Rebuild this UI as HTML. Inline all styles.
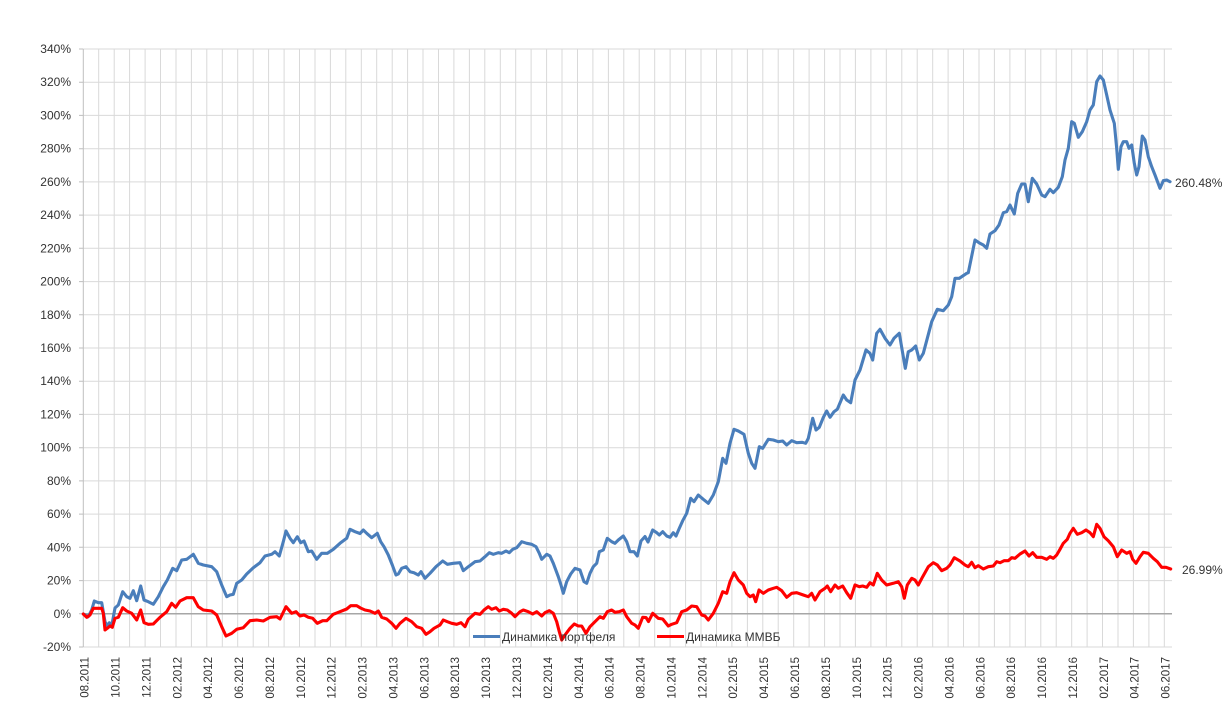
<!DOCTYPE html>
<html>
<head>
<meta charset="utf-8">
<style>
html,body{margin:0;padding:0;background:#fff;}
svg{display:block;}
text{font-family:"Liberation Sans","DejaVu Sans",sans-serif;fill:#333;}
</style>
</head>
<body>
<svg width="1228" height="725" viewBox="0 0 1228 725" xmlns="http://www.w3.org/2000/svg">
<rect x="0" y="0" width="1228" height="725" fill="#fff"/>
<path fill="none" stroke="#d9d9d9" stroke-width="1" d="M98.7 49V647M114.2 49V647M129.6 49V647M145.1 49V647M160.5 49V647M176 49V647M191.4 49V647M206.8 49V647M222.3 49V647M237.7 49V647M253.2 49V647M268.6 49V647M284.1 49V647M299.5 49V647M315 49V647M330.4 49V647M345.8 49V647M361.3 49V647M376.7 49V647M392.2 49V647M407.6 49V647M423 49V647M438.5 49V647M453.9 49V647M469.4 49V647M484.8 49V647M500.3 49V647M515.7 49V647M531.1 49V647M546.6 49V647M562 49V647M577.5 49V647M592.9 49V647M608.4 49V647M623.8 49V647M639.2 49V647M654.7 49V647M670.1 49V647M685.6 49V647M701 49V647M716.5 49V647M731.9 49V647M747.4 49V647M762.8 49V647M778.2 49V647M793.7 49V647M809.1 49V647M824.6 49V647M840 49V647M855.4 49V647M870.9 49V647M886.3 49V647M901.8 49V647M917.2 49V647M932.7 49V647M948.1 49V647M963.5 49V647M979 49V647M994.4 49V647M1009.9 49V647M1025.3 49V647M1040.8 49V647M1056.2 49V647M1071.7 49V647M1087.1 49V647M1102.5 49V647M1118 49V647M1133.4 49V647M1148.9 49V647M1164.3 49V647"/>
<path fill="none" stroke="#d9d9d9" stroke-width="1" d="M83 49H1172M83 82.2H1172M83 115.4H1172M83 148.7H1172M83 181.9H1172M83 215.1H1172M83 248.3H1172M83 281.6H1172M83 314.8H1172M83 348H1172M83 381.2H1172M83 414.4H1172M83 447.7H1172M83 480.9H1172M83 514.1H1172M83 547.3H1172M83 580.6H1172M83 647H1172"/>
<path fill="none" stroke="#a6a6a6" stroke-width="1.5" d="M83 613.8H1172"/>
<path fill="none" stroke="#bfbfbf" stroke-width="1" d="M83.3 49V647M79 49H83M79 82.2H83M79 115.4H83M79 148.7H83M79 181.9H83M79 215.1H83M79 248.3H83M79 281.6H83M79 314.8H83M79 348H83M79 381.2H83M79 414.4H83M79 447.7H83M79 480.9H83M79 514.1H83M79 547.3H83M79 580.6H83M79 613.8H83M79 647H83"/>
<g font-size="12" text-anchor="end">
<text x="71" y="53">340%</text>
<text x="71" y="86.2">320%</text>
<text x="71" y="119.4">300%</text>
<text x="71" y="152.7">280%</text>
<text x="71" y="185.9">260%</text>
<text x="71" y="219.1">240%</text>
<text x="71" y="252.3">220%</text>
<text x="71" y="285.6">200%</text>
<text x="71" y="318.8">180%</text>
<text x="71" y="352">160%</text>
<text x="71" y="385.2">140%</text>
<text x="71" y="418.4">120%</text>
<text x="71" y="451.7">100%</text>
<text x="71" y="484.9">80%</text>
<text x="71" y="518.1">60%</text>
<text x="71" y="551.3">40%</text>
<text x="71" y="584.6">20%</text>
<text x="71" y="617.8">0%</text>
<text x="71" y="651">-20%</text>
</g>
<g font-size="11.5" text-anchor="end">
<text transform="translate(88.6,657) rotate(-90)">08.2011</text>
<text transform="translate(119.5,657) rotate(-90)">10.2011</text>
<text transform="translate(150.4,657) rotate(-90)">12.2011</text>
<text transform="translate(181.3,657) rotate(-90)">02.2012</text>
<text transform="translate(212.1,657) rotate(-90)">04.2012</text>
<text transform="translate(243,657) rotate(-90)">06.2012</text>
<text transform="translate(273.9,657) rotate(-90)">08.2012</text>
<text transform="translate(304.8,657) rotate(-90)">10.2012</text>
<text transform="translate(335.7,657) rotate(-90)">12.2012</text>
<text transform="translate(366.6,657) rotate(-90)">02.2013</text>
<text transform="translate(397.5,657) rotate(-90)">04.2013</text>
<text transform="translate(428.3,657) rotate(-90)">06.2013</text>
<text transform="translate(459.2,657) rotate(-90)">08.2013</text>
<text transform="translate(490.1,657) rotate(-90)">10.2013</text>
<text transform="translate(521,657) rotate(-90)">12.2013</text>
<text transform="translate(551.9,657) rotate(-90)">02.2014</text>
<text transform="translate(582.8,657) rotate(-90)">04.2014</text>
<text transform="translate(613.7,657) rotate(-90)">06.2014</text>
<text transform="translate(644.5,657) rotate(-90)">08.2014</text>
<text transform="translate(675.4,657) rotate(-90)">10.2014</text>
<text transform="translate(706.3,657) rotate(-90)">12.2014</text>
<text transform="translate(737.2,657) rotate(-90)">02.2015</text>
<text transform="translate(768.1,657) rotate(-90)">04.2015</text>
<text transform="translate(799,657) rotate(-90)">06.2015</text>
<text transform="translate(829.9,657) rotate(-90)">08.2015</text>
<text transform="translate(860.8,657) rotate(-90)">10.2015</text>
<text transform="translate(891.6,657) rotate(-90)">12.2015</text>
<text transform="translate(922.5,657) rotate(-90)">02.2016</text>
<text transform="translate(953.4,657) rotate(-90)">04.2016</text>
<text transform="translate(984.3,657) rotate(-90)">06.2016</text>
<text transform="translate(1015.2,657) rotate(-90)">08.2016</text>
<text transform="translate(1046.1,657) rotate(-90)">10.2016</text>
<text transform="translate(1077,657) rotate(-90)">12.2016</text>
<text transform="translate(1107.8,657) rotate(-90)">02.2017</text>
<text transform="translate(1138.7,657) rotate(-90)">04.2017</text>
<text transform="translate(1169.6,657) rotate(-90)">06.2017</text>
</g>
<polyline fill="none" stroke="#4a7ebb" stroke-width="3.1" stroke-linejoin="round" stroke-linecap="round" points="83.3,614 88.3,616.7 91.7,610 94.3,601 98.3,602.7 101.7,602.7 105,621.7 107.3,626 109.3,622.7 111.7,626 115,608 118.3,605 122.7,591.7 126.7,596.7 130,598.3 133.3,590.7 136.7,600.7 140.7,586 144,600 148.3,601.7 153.3,604.3 158.3,596.7 163.3,586.7 167.3,580 172.7,568.3 176.7,570.7 181.7,560 186.7,559.3 193.3,554.3 198.3,563.3 203.3,565 211.7,566.7 216.7,571.7 221.7,585 226.7,596.7 230,595 233.3,594.3 236.7,583.3 241.7,580 246.7,574 253.3,567.7 260,562.7 265,556 271.7,554.3 275,551.7 279.3,556 283.3,541.7 286,531 290,538.3 293.3,542.7 297.3,536.7 300.7,542.7 304,541 308.3,551.7 311.7,551 316.7,559.3 321.7,553.3 327.3,553.3 333.3,549.3 340,543.3 346.7,538.3 350,529.3 355,531.7 360,533.5 363.3,530 366.7,533.3 371.7,537.7 377.3,533.3 380.7,541.7 384,546.7 388.3,555 392.3,565 396,575 398.3,574 401.7,568.3 406,566.7 410,571.7 414,572.7 418.3,575 421,571.7 425,578.3 430,573.3 436,566.7 442.7,561 447.3,564.3 453.3,563.3 460,562.7 463.3,570.7 468.3,566.7 475,561.7 480,561 485,556.7 489.3,552.7 493.3,554.3 498.3,552.7 501.7,553.3 506,551 509.3,552.7 512.7,549.3 516.7,547.7 521.7,541.7 526.7,543.3 531.7,544.3 536,546.7 539.3,553.3 541.7,559.3 546.7,554.3 550,556 553.3,563.3 558.3,576.7 561,585 563.3,593.3 566.7,581.7 570.7,574 575,568.3 580,570 584,581.7 586.7,583.3 590,573.3 593.3,566.7 596.7,563.3 599.3,551.7 603.3,550 607.3,538.3 611.7,541.7 615,543.3 618.3,540 623.3,536 626.7,541.7 630,551.7 634,551.7 637.3,556 641,541 645,536.5 648,542 652.7,530 656.7,532.7 659.3,535 662.7,531.7 666.7,536 670,537.3 673.3,532.7 676,536 679.3,528.3 682.7,520.7 686.7,513.3 690.7,498.3 694,501.7 698.3,495 703.3,499.3 708.3,503.3 713.3,495 718.3,481.7 722.7,458.3 726,463.3 730,443.3 734,429.3 738.3,431 744,434.3 748.3,453.3 751.7,463.3 755,468.3 759.3,446.7 762.7,448.3 768.3,439.3 773.3,440 778.3,441.7 782.7,441 786.7,445 791.7,440.7 796.7,442.7 802.3,442.3 805.7,443.3 808.3,438.3 812.7,418.3 816,430 819.3,427.3 823.3,417.5 826.7,411 830,417.3 834,411.7 837.3,409.3 843.3,395 846.7,400 850.7,402.7 855,380 860,370 866,350 870,353.3 872.7,360 876.7,333.3 880,329.3 885,338.3 890,345 894,338.3 899.3,333.3 902.7,353.3 905.3,368.3 908.3,351.7 911.7,350 915.7,346 919.3,360 923.3,353.3 927.3,338.3 931.7,321.7 937.3,309.3 943.3,310.7 948.3,305 951.7,296.7 955,278.3 959.3,278.3 966.7,273.3 968.3,272.7 975,240 979,242.7 983.3,245 986.7,248.3 990,234 995,230.7 999,225 1003.3,212.7 1006.7,211.7 1010,205 1014.3,214 1017.7,193.3 1021.7,184 1025,184 1028.3,201.7 1032.3,178.3 1036.7,184 1041.7,195 1045,196.7 1050,189.3 1053.3,192.7 1058.3,187.3 1062.3,176.7 1065,160 1068.3,148.3 1071.7,121.7 1074.3,123.3 1078.3,137.3 1082.3,131.7 1086.7,121.7 1090,110 1093.3,105 1096.7,81.7 1100,76 1103.3,80 1106.7,95 1110,110 1114.3,123.3 1116.7,148.3 1118.3,169.3 1121,146.7 1123.3,141.7 1126.7,141.7 1129,148.3 1131.7,145 1134.3,163.3 1136.7,175 1139,166.7 1142.3,136 1145,140 1148.3,156.7 1151.7,166.7 1155,175 1160,188.3 1163.3,180.7 1166.7,180 1170,181.7"/>
<polyline fill="none" stroke="#ff0000" stroke-width="3.1" stroke-linejoin="round" stroke-linecap="round" points="83.3,614 86.7,617.3 90,615 93.3,608.3 98.3,608.3 101.7,608.3 103.3,613.3 105,630 107.3,628.3 110,626 112.3,627.3 115,618.3 118.3,617.3 122.7,607.7 126.7,611 131.7,613.3 136.7,620 140.7,610 144,622.7 148.3,624.3 153.3,624 160,617.3 166.7,611.7 171.7,603.3 175.7,607.3 180,601 186.7,597.7 193.3,597.7 198.3,606.7 203.3,610 211.7,611 216.7,615 221.7,626.7 226,636 231.7,633.3 236.7,629.3 243.3,627.7 250,620.7 256.7,620 263.3,621 270,617.3 276.7,616.7 280,619 286,606.7 291.7,613.3 296,611.7 300,616 304,615 308.3,617.3 312.7,618.3 317.3,623.3 322.7,620.7 326.7,620.7 333.3,614.3 340,611.7 346.7,609 350.7,605.7 356.7,605.7 360.5,608 365,610 370,611 375,613.3 378.3,611 381.7,617.3 386.7,619 391.7,623.3 396,628.3 400,623.3 406,618.3 411.7,621.7 416.7,626.7 421.7,628.3 426,634.3 430,631.7 434,628.3 440,625 443.3,620 447.3,621.7 451.7,623.3 456.7,624.3 461,622.7 465,626.7 468.3,619.3 475,613.3 480,614.3 484,610 488.3,606.7 491.7,609.3 496,607.7 499.3,611 503.3,609.3 507.3,610 511.7,613.3 515,616.7 520,611.7 523.3,610 528.3,611.7 532.7,614 536.7,611.7 541.7,616 545,612.7 549.3,610.7 553.3,613.3 556.7,621.7 559.3,631.7 561.7,640 565,635 570,628.3 574.3,624 578.3,626 581.7,626 586,633.3 590,626.7 595,621.7 600,616.7 603.3,618.3 607.3,611.7 611.7,610 615,612.3 619.3,611.7 623.3,610 626.7,616.7 631.7,623.3 635,625 638.3,628.3 642.7,617.3 646,617.5 648.5,621.5 652.7,613.3 658.3,618.3 662.7,619 668.3,626 671.7,624.3 676.7,622.7 681.7,611.7 686.7,610 691.7,606 696.7,606.7 701.7,615 705,616 708.3,620 713.3,613.3 718.3,603.3 722.7,591.7 726.7,593.3 730,581.7 734,572.7 738.3,580 743.3,585 746.7,593.3 750,596.7 753.3,595 755.7,601.7 759,590 763.3,593.3 768.3,590 773.3,588.3 776.7,587.3 781.7,590.7 786.7,597.3 791.7,593.3 796.7,592.7 803.3,595 808.3,596.7 811.7,593.3 815,600 820,591.7 825,588.3 827.3,586 830.7,591.7 835,585 838.3,588.3 842.7,586 846.7,592.7 850.7,598.3 855,585 859.3,586.7 862.7,586 866.7,587.3 870,582.7 873.3,585 877.3,573.3 881.7,580 886.7,585 893.3,583.3 898.3,581.7 901.7,586.7 904.3,598.3 907.3,585 911.7,578.3 915,580 918.3,585 922.7,576.7 928.3,566.7 933.3,562.7 937.3,565 941.7,570.7 946.7,568.3 950,565 954.3,557.7 960,561 965,565 968.3,566.7 971.7,562.3 975,567.7 978.3,565.7 983.3,569 988.3,566.7 993.3,566 996.7,561.7 1000,562.7 1004,560.7 1008.3,560.7 1011.7,557.7 1015,558.3 1020,554 1025,551 1029,556 1032.7,552.7 1036.7,557.3 1041.7,557.3 1046.7,559.3 1050,556.7 1053.3,558.3 1056.7,555 1060,549.3 1063.3,543.3 1067.3,539.3 1070,533.3 1073.3,528.3 1077.3,534.3 1081.7,532.7 1086,530 1090,532.7 1093.3,536.7 1096.7,524.3 1100,528.3 1104,536.7 1108.3,540.7 1113.3,546.7 1117.3,556.7 1121.7,550 1126.7,553.3 1130,551.7 1132.7,559.3 1136,563.3 1140,556.7 1143.3,552.3 1148.3,553.3 1153.3,558.3 1157.3,561.7 1161.7,567.3 1166,567.3 1170.7,569"/>
<text x="1175" y="187" font-size="12">260.48%</text>
<text x="1182" y="574" font-size="12">26.99%</text>
<line x1="473" y1="636.5" x2="500" y2="636.5" stroke="#4a7ebb" stroke-width="3"/>
<text x="502" y="641" font-size="12">Динамика портфеля</text>
<line x1="657" y1="636.5" x2="684" y2="636.5" stroke="#ff0000" stroke-width="3"/>
<text x="686" y="641" font-size="12">Динамика ММВБ</text>
</svg>
</body>
</html>
